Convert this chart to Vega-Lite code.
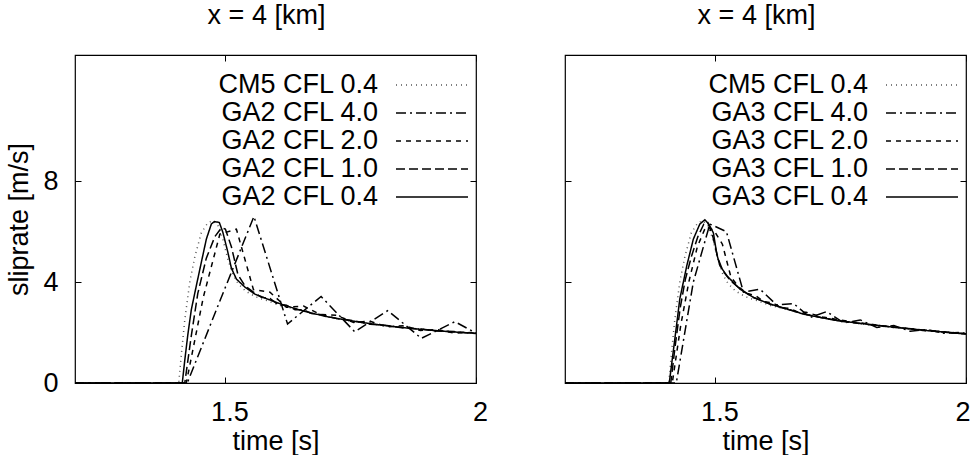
{
  "$schema": "https://vega.github.io/schema/vega-lite/v6.json",
  "padding": {"left": 5, "top": 0, "right": 5, "bottom": 0},
  "background": "white",
  "config": {
    "font": "Liberation Sans",
    "view": {"stroke": "black", "strokeWidth": 1.2},
    "axis": {"grid": false, "domain": false, "ticks": true, "tickColor": "black", "tickWidth": 1, "tickSize": -6, "labelFont": "Liberation Sans", "labelFontSize": 27, "labelColor": "black", "titleFont": "Liberation Sans", "titleFontSize": 27, "titleFontWeight": "normal", "titleColor": "black"},
    "axisX": {"labelPadding": 22, "titlePadding": 3, "labelOffset": 4, "labelFlush": false, "format": "~g"},
    "axisY": {"labelPadding": 23, "titlePadding": 9},
    "legend": {"title": null, "orient": "none", "legendX": 320, "legendY": 16.5, "symbolType": "stroke", "symbolSize": 5184, "symbolStrokeWidth": 1.5, "rowPadding": 0, "labelAlign": "right", "labelOffset": -91, "symbolOffset": 0, "labelFont": "Liberation Sans", "labelFontSize": 27, "labelColor": "black", "padding": 0, "labelLimit": 400}
  },
  "datasets": {
    "left": [
      {"s":"CM5 CFL 0.4","t":1.2,"v":0},{"s":"CM5 CFL 0.4","t":1.407,"v":0},{"s":"CM5 CFL 0.4","t":1.412,"v":1.1},{"s":"CM5 CFL 0.4","t":1.419,"v":2.5},{"s":"CM5 CFL 0.4","t":1.429,"v":4.0},{"s":"CM5 CFL 0.4","t":1.439,"v":5.0},{"s":"CM5 CFL 0.4","t":1.452,"v":5.95},{"s":"CM5 CFL 0.4","t":1.465,"v":6.35},{"s":"CM5 CFL 0.4","t":1.475,"v":6.43},{"s":"CM5 CFL 0.4","t":1.485,"v":6.25},{"s":"CM5 CFL 0.4","t":1.495,"v":5.7},{"s":"CM5 CFL 0.4","t":1.505,"v":4.9},{"s":"CM5 CFL 0.4","t":1.515,"v":4.3},{"s":"CM5 CFL 0.4","t":1.525,"v":3.95},{"s":"CM5 CFL 0.4","t":1.54,"v":3.65},{"s":"CM5 CFL 0.4","t":1.56,"v":3.42},{"s":"CM5 CFL 0.4","t":1.585,"v":3.25},{"s":"CM5 CFL 0.4","t":1.61,"v":3.07},{"s":"CM5 CFL 0.4","t":1.65,"v":2.88},{"s":"CM5 CFL 0.4","t":1.7,"v":2.64},{"s":"CM5 CFL 0.4","t":1.75,"v":2.46},{"s":"CM5 CFL 0.4","t":1.8,"v":2.32},{"s":"CM5 CFL 0.4","t":1.85,"v":2.21},{"s":"CM5 CFL 0.4","t":1.9,"v":2.12},{"s":"CM5 CFL 0.4","t":1.95,"v":2.04},{"s":"CM5 CFL 0.4","t":2.0,"v":1.97},
      {"s":"GA2 CFL 4.0","t":1.2,"v":0},{"s":"GA2 CFL 4.0","t":1.357,"v":0},{"s":"GA2 CFL 4.0","t":1.424,"v":0},{"s":"GA2 CFL 4.0","t":1.49,"v":3.3},{"s":"GA2 CFL 4.0","t":1.557,"v":6.6},{"s":"GA2 CFL 4.0","t":1.624,"v":2.34},{"s":"GA2 CFL 4.0","t":1.691,"v":3.43},{"s":"GA2 CFL 4.0","t":1.758,"v":2.03},{"s":"GA2 CFL 4.0","t":1.824,"v":2.87},{"s":"GA2 CFL 4.0","t":1.891,"v":1.77},{"s":"GA2 CFL 4.0","t":1.958,"v":2.43},{"s":"GA2 CFL 4.0","t":2.024,"v":1.72},
      {"s":"GA2 CFL 2.0","t":1.2,"v":0},{"s":"GA2 CFL 2.0","t":1.422,"v":0},{"s":"GA2 CFL 2.0","t":1.456,"v":3.4},{"s":"GA2 CFL 2.0","t":1.489,"v":5.9},{"s":"GA2 CFL 2.0","t":1.522,"v":6.1},{"s":"GA2 CFL 2.0","t":1.556,"v":3.7},{"s":"GA2 CFL 2.0","t":1.589,"v":3.6},{"s":"GA2 CFL 2.0","t":1.622,"v":3.0},{"s":"GA2 CFL 2.0","t":1.656,"v":3.05},{"s":"GA2 CFL 2.0","t":1.689,"v":2.72},{"s":"GA2 CFL 2.0","t":1.722,"v":2.68},{"s":"GA2 CFL 2.0","t":1.756,"v":2.4},{"s":"GA2 CFL 2.0","t":1.789,"v":2.45},{"s":"GA2 CFL 2.0","t":1.822,"v":2.22},{"s":"GA2 CFL 2.0","t":1.856,"v":2.27},{"s":"GA2 CFL 2.0","t":1.889,"v":2.08},{"s":"GA2 CFL 2.0","t":1.922,"v":2.12},{"s":"GA2 CFL 2.0","t":1.956,"v":1.98},{"s":"GA2 CFL 2.0","t":1.989,"v":2.0},{"s":"GA2 CFL 2.0","t":2.022,"v":1.92},
      {"s":"GA2 CFL 1.0","t":1.2,"v":0},{"s":"GA2 CFL 1.0","t":1.419,"v":0},{"s":"GA2 CFL 1.0","t":1.432,"v":1.87},{"s":"GA2 CFL 1.0","t":1.445,"v":3.55},{"s":"GA2 CFL 1.0","t":1.462,"v":4.95},{"s":"GA2 CFL 1.0","t":1.479,"v":5.8},{"s":"GA2 CFL 1.0","t":1.492,"v":6.15},{"s":"GA2 CFL 1.0","t":1.5,"v":6.1},{"s":"GA2 CFL 1.0","t":1.512,"v":5.4},{"s":"GA2 CFL 1.0","t":1.525,"v":4.3},{"s":"GA2 CFL 1.0","t":1.539,"v":3.85},{"s":"GA2 CFL 1.0","t":1.556,"v":3.6},{"s":"GA2 CFL 1.0","t":1.572,"v":3.4},{"s":"GA2 CFL 1.0","t":1.589,"v":3.35},{"s":"GA2 CFL 1.0","t":1.606,"v":3.1},{"s":"GA2 CFL 1.0","t":1.622,"v":3.08},{"s":"GA2 CFL 1.0","t":1.639,"v":2.9},{"s":"GA2 CFL 1.0","t":1.656,"v":2.9},{"s":"GA2 CFL 1.0","t":1.672,"v":2.75},{"s":"GA2 CFL 1.0","t":1.689,"v":2.72},{"s":"GA2 CFL 1.0","t":1.722,"v":2.56},{"s":"GA2 CFL 1.0","t":1.756,"v":2.47},{"s":"GA2 CFL 1.0","t":1.789,"v":2.33},{"s":"GA2 CFL 1.0","t":1.822,"v":2.28},{"s":"GA2 CFL 1.0","t":1.856,"v":2.18},{"s":"GA2 CFL 1.0","t":1.889,"v":2.14},{"s":"GA2 CFL 1.0","t":1.922,"v":2.06},{"s":"GA2 CFL 1.0","t":1.956,"v":2.04},{"s":"GA2 CFL 1.0","t":1.989,"v":1.97},{"s":"GA2 CFL 1.0","t":2.006,"v":1.96},
      {"s":"GA2 CFL 0.4","t":1.2,"v":0},{"s":"GA2 CFL 0.4","t":1.414,"v":0},{"s":"GA2 CFL 0.4","t":1.419,"v":0.9},{"s":"GA2 CFL 0.4","t":1.425,"v":1.9},{"s":"GA2 CFL 0.4","t":1.432,"v":2.9},{"s":"GA2 CFL 0.4","t":1.442,"v":3.85},{"s":"GA2 CFL 0.4","t":1.452,"v":4.78},{"s":"GA2 CFL 0.4","t":1.462,"v":5.7},{"s":"GA2 CFL 0.4","t":1.472,"v":6.3},{"s":"GA2 CFL 0.4","t":1.478,"v":6.4},{"s":"GA2 CFL 0.4","t":1.488,"v":6.36},{"s":"GA2 CFL 0.4","t":1.495,"v":5.97},{"s":"GA2 CFL 0.4","t":1.505,"v":5.18},{"s":"GA2 CFL 0.4","t":1.512,"v":4.55},{"s":"GA2 CFL 0.4","t":1.522,"v":4.12},{"s":"GA2 CFL 0.4","t":1.539,"v":3.8},{"s":"GA2 CFL 0.4","t":1.559,"v":3.52},{"s":"GA2 CFL 0.4","t":1.585,"v":3.32},{"s":"GA2 CFL 0.4","t":1.612,"v":3.12},{"s":"GA2 CFL 0.4","t":1.639,"v":2.95},{"s":"GA2 CFL 0.4","t":1.67,"v":2.78},{"s":"GA2 CFL 0.4","t":1.705,"v":2.62},{"s":"GA2 CFL 0.4","t":1.74,"v":2.5},{"s":"GA2 CFL 0.4","t":1.772,"v":2.4},{"s":"GA2 CFL 0.4","t":1.805,"v":2.31},{"s":"GA2 CFL 0.4","t":1.839,"v":2.23},{"s":"GA2 CFL 0.4","t":1.872,"v":2.16},{"s":"GA2 CFL 0.4","t":1.905,"v":2.1},{"s":"GA2 CFL 0.4","t":1.95,"v":2.03},{"s":"GA2 CFL 0.4","t":2.0,"v":1.97}
    ],
    "right": [
      {"s":"CM5 CFL 0.4","t":1.2,"v":0},{"s":"CM5 CFL 0.4","t":1.407,"v":0},{"s":"CM5 CFL 0.4","t":1.412,"v":1.1},{"s":"CM5 CFL 0.4","t":1.419,"v":2.5},{"s":"CM5 CFL 0.4","t":1.429,"v":4.0},{"s":"CM5 CFL 0.4","t":1.439,"v":5.0},{"s":"CM5 CFL 0.4","t":1.452,"v":5.95},{"s":"CM5 CFL 0.4","t":1.465,"v":6.35},{"s":"CM5 CFL 0.4","t":1.475,"v":6.43},{"s":"CM5 CFL 0.4","t":1.485,"v":6.25},{"s":"CM5 CFL 0.4","t":1.495,"v":5.7},{"s":"CM5 CFL 0.4","t":1.505,"v":4.9},{"s":"CM5 CFL 0.4","t":1.515,"v":4.3},{"s":"CM5 CFL 0.4","t":1.525,"v":3.95},{"s":"CM5 CFL 0.4","t":1.54,"v":3.65},{"s":"CM5 CFL 0.4","t":1.56,"v":3.42},{"s":"CM5 CFL 0.4","t":1.585,"v":3.25},{"s":"CM5 CFL 0.4","t":1.61,"v":3.07},{"s":"CM5 CFL 0.4","t":1.65,"v":2.88},{"s":"CM5 CFL 0.4","t":1.7,"v":2.64},{"s":"CM5 CFL 0.4","t":1.75,"v":2.46},{"s":"CM5 CFL 0.4","t":1.8,"v":2.32},{"s":"CM5 CFL 0.4","t":1.85,"v":2.21},{"s":"CM5 CFL 0.4","t":1.9,"v":2.12},{"s":"CM5 CFL 0.4","t":1.95,"v":2.04},{"s":"CM5 CFL 0.4","t":2.0,"v":1.97},
      {"s":"GA3 CFL 4.0","t":1.2,"v":0},{"s":"GA3 CFL 4.0","t":1.422,"v":0},{"s":"GA3 CFL 4.0","t":1.456,"v":4.0},{"s":"GA3 CFL 4.0","t":1.489,"v":6.3},{"s":"GA3 CFL 4.0","t":1.522,"v":6.0},{"s":"GA3 CFL 4.0","t":1.556,"v":3.6},{"s":"GA3 CFL 4.0","t":1.589,"v":3.72},{"s":"GA3 CFL 4.0","t":1.622,"v":3.1},{"s":"GA3 CFL 4.0","t":1.656,"v":3.15},{"s":"GA3 CFL 4.0","t":1.689,"v":2.6},{"s":"GA3 CFL 4.0","t":1.722,"v":2.83},{"s":"GA3 CFL 4.0","t":1.756,"v":2.38},{"s":"GA3 CFL 4.0","t":1.789,"v":2.5},{"s":"GA3 CFL 4.0","t":1.822,"v":2.2},{"s":"GA3 CFL 4.0","t":1.856,"v":2.28},{"s":"GA3 CFL 4.0","t":1.889,"v":2.05},{"s":"GA3 CFL 4.0","t":1.922,"v":2.12},{"s":"GA3 CFL 4.0","t":1.956,"v":1.97},{"s":"GA3 CFL 4.0","t":1.989,"v":2.0},{"s":"GA3 CFL 4.0","t":2.022,"v":1.9},
      {"s":"GA3 CFL 2.0","t":1.2,"v":0},{"s":"GA3 CFL 2.0","t":1.414,"v":0},{"s":"GA3 CFL 2.0","t":1.431,"v":2.3},{"s":"GA3 CFL 2.0","t":1.447,"v":4.0},{"s":"GA3 CFL 2.0","t":1.464,"v":5.4},{"s":"GA3 CFL 2.0","t":1.481,"v":6.2},{"s":"GA3 CFL 2.0","t":1.497,"v":6.05},{"s":"GA3 CFL 2.0","t":1.514,"v":5.5},{"s":"GA3 CFL 2.0","t":1.531,"v":4.2},{"s":"GA3 CFL 2.0","t":1.547,"v":3.8},{"s":"GA3 CFL 2.0","t":1.564,"v":3.55},{"s":"GA3 CFL 2.0","t":1.581,"v":3.45},{"s":"GA3 CFL 2.0","t":1.597,"v":3.22},{"s":"GA3 CFL 2.0","t":1.614,"v":3.18},{"s":"GA3 CFL 2.0","t":1.631,"v":2.98},{"s":"GA3 CFL 2.0","t":1.647,"v":2.96},{"s":"GA3 CFL 2.0","t":1.664,"v":2.82},{"s":"GA3 CFL 2.0","t":1.681,"v":2.8},{"s":"GA3 CFL 2.0","t":1.714,"v":2.62},{"s":"GA3 CFL 2.0","t":1.747,"v":2.5},{"s":"GA3 CFL 2.0","t":1.781,"v":2.4},{"s":"GA3 CFL 2.0","t":1.814,"v":2.32},{"s":"GA3 CFL 2.0","t":1.847,"v":2.22},{"s":"GA3 CFL 2.0","t":1.881,"v":2.17},{"s":"GA3 CFL 2.0","t":1.914,"v":2.08},{"s":"GA3 CFL 2.0","t":1.947,"v":2.04},{"s":"GA3 CFL 2.0","t":1.981,"v":1.97},{"s":"GA3 CFL 2.0","t":2.0,"v":1.95},
      {"s":"GA3 CFL 1.0","t":1.2,"v":0},{"s":"GA3 CFL 1.0","t":1.411,"v":0},{"s":"GA3 CFL 1.0","t":1.42,"v":1.5},{"s":"GA3 CFL 1.0","t":1.43,"v":3.0},{"s":"GA3 CFL 1.0","t":1.44,"v":4.1},{"s":"GA3 CFL 1.0","t":1.452,"v":5.0},{"s":"GA3 CFL 1.0","t":1.465,"v":5.8},{"s":"GA3 CFL 1.0","t":1.477,"v":6.3},{"s":"GA3 CFL 1.0","t":1.485,"v":6.35},{"s":"GA3 CFL 1.0","t":1.495,"v":5.8},{"s":"GA3 CFL 1.0","t":1.505,"v":4.95},{"s":"GA3 CFL 1.0","t":1.515,"v":4.45},{"s":"GA3 CFL 1.0","t":1.53,"v":4.05},{"s":"GA3 CFL 1.0","t":1.55,"v":3.72},{"s":"GA3 CFL 1.0","t":1.575,"v":3.4},{"s":"GA3 CFL 1.0","t":1.61,"v":3.12},{"s":"GA3 CFL 1.0","t":1.64,"v":2.95},{"s":"GA3 CFL 1.0","t":1.676,"v":2.74},{"s":"GA3 CFL 1.0","t":1.71,"v":2.6},{"s":"GA3 CFL 1.0","t":1.743,"v":2.48},{"s":"GA3 CFL 1.0","t":1.78,"v":2.38},{"s":"GA3 CFL 1.0","t":1.843,"v":2.24},{"s":"GA3 CFL 1.0","t":1.92,"v":2.09},{"s":"GA3 CFL 1.0","t":2.0,"v":1.95},
      {"s":"GA3 CFL 0.4","t":1.2,"v":0},{"s":"GA3 CFL 0.4","t":1.408,"v":0},{"s":"GA3 CFL 0.4","t":1.415,"v":1.1},{"s":"GA3 CFL 0.4","t":1.422,"v":2.2},{"s":"GA3 CFL 0.4","t":1.429,"v":3.33},{"s":"GA3 CFL 0.4","t":1.443,"v":4.65},{"s":"GA3 CFL 0.4","t":1.456,"v":5.7},{"s":"GA3 CFL 0.4","t":1.469,"v":6.3},{"s":"GA3 CFL 0.4","t":1.479,"v":6.47},{"s":"GA3 CFL 0.4","t":1.487,"v":6.3},{"s":"GA3 CFL 0.4","t":1.496,"v":5.95},{"s":"GA3 CFL 0.4","t":1.503,"v":5.1},{"s":"GA3 CFL 0.4","t":1.509,"v":4.65},{"s":"GA3 CFL 0.4","t":1.523,"v":4.25},{"s":"GA3 CFL 0.4","t":1.549,"v":3.72},{"s":"GA3 CFL 0.4","t":1.576,"v":3.39},{"s":"GA3 CFL 0.4","t":1.609,"v":3.13},{"s":"GA3 CFL 0.4","t":1.676,"v":2.73},{"s":"GA3 CFL 0.4","t":1.743,"v":2.47},{"s":"GA3 CFL 0.4","t":1.843,"v":2.24},{"s":"GA3 CFL 0.4","t":1.92,"v":2.08},{"s":"GA3 CFL 0.4","t":2.0,"v":1.94}
    ]
  },
  "spacing": 74,
  "resolve": {"scale": {"strokeDash": "independent", "color": "independent"}, "legend": {"strokeDash": "independent", "color": "independent"}},
  "hconcat": [
    {
      "width": 401, "height": 328,
      "title": {"text": "x = 4 [km]", "font": "Liberation Sans", "fontSize": 27, "fontWeight": "normal", "color": "black", "dx": -9, "offset": 25},
      "data": {"name": "left"},
      "resolve": {"axis": {"x": "independent", "y": "independent"}},
      "layer": [
        {
          "mark": {"type": "line", "clip": true, "strokeWidth": 1.5},
          "encoding": {
            "x": {"field": "t", "type": "quantitative", "scale": {"domain": [1.2, 2], "nice": false, "zero": false}, "axis": {"orient": "bottom", "values": [1.5, 2], "title": "time [s]"}},
            "y": {"field": "v", "type": "quantitative", "scale": {"domain": [0, 13], "nice": false}, "axis": {"orient": "left", "values": [0, 4, 8], "title": "sliprate [m/s]"}},
            "strokeDash": {"field": "s", "type": "nominal", "scale": {"domain": ["CM5 CFL 0.4", "GA2 CFL 4.0", "GA2 CFL 2.0", "GA2 CFL 1.0", "GA2 CFL 0.4"], "range": [[1, 4], [10, 4, 2, 4], [5, 5], [9, 4], [1, 0]]}, "legend": {"encode": {"symbols": {"update": {"y": {"value": 13.5}}}, "labels": {"update": {"y": {"value": 13.5}}}}}},
            "color": {"field": "s", "type": "nominal", "scale": {"domain": ["CM5 CFL 0.4", "GA2 CFL 4.0", "GA2 CFL 2.0", "GA2 CFL 1.0", "GA2 CFL 0.4"], "range": ["#555555", "black", "black", "black", "black"]}, "legend": {"encode": {"symbols": {"update": {"y": {"value": 13.5}}}, "labels": {"update": {"y": {"value": 13.5}}}}}}
          }
        },
        {
          "mark": {"type": "line", "opacity": 0},
          "encoding": {
            "x": {"field": "t", "type": "quantitative", "axis": {"orient": "top", "values": [1.5, 2], "labels": false, "title": null}},
            "y": {"field": "v", "type": "quantitative", "axis": {"orient": "right", "values": [0, 4, 8], "labels": false, "title": null}},
            "detail": {"field": "s"}
          }
        }
      ]
    },
    {
      "width": 401, "height": 328,
      "title": {"text": "x = 4 [km]", "font": "Liberation Sans", "fontSize": 27, "fontWeight": "normal", "color": "black", "dx": -9, "offset": 25},
      "data": {"name": "right"},
      "resolve": {"axis": {"x": "independent", "y": "independent"}},
      "layer": [
        {
          "mark": {"type": "line", "clip": true, "strokeWidth": 1.5},
          "encoding": {
            "x": {"field": "t", "type": "quantitative", "scale": {"domain": [1.2, 2], "nice": false, "zero": false}, "axis": {"orient": "bottom", "values": [1.5, 2], "title": "time [s]", "labelFlush": true}},
            "y": {"field": "v", "type": "quantitative", "scale": {"domain": [0, 13], "nice": false}, "axis": {"orient": "left", "values": [0, 4, 8], "labels": false, "title": null}},
            "strokeDash": {"field": "s", "type": "nominal", "scale": {"domain": ["CM5 CFL 0.4", "GA3 CFL 4.0", "GA3 CFL 2.0", "GA3 CFL 1.0", "GA3 CFL 0.4"], "range": [[1, 4], [10, 4, 2, 4], [5, 5], [9, 4], [1, 0]]}, "legend": {"encode": {"symbols": {"update": {"y": {"value": 13.5}}}, "labels": {"update": {"y": {"value": 13.5}}}}}},
            "color": {"field": "s", "type": "nominal", "scale": {"domain": ["CM5 CFL 0.4", "GA3 CFL 4.0", "GA3 CFL 2.0", "GA3 CFL 1.0", "GA3 CFL 0.4"], "range": ["#555555", "black", "black", "black", "black"]}, "legend": {"encode": {"symbols": {"update": {"y": {"value": 13.5}}}, "labels": {"update": {"y": {"value": 13.5}}}}}}
          }
        },
        {
          "mark": {"type": "line", "opacity": 0},
          "encoding": {
            "x": {"field": "t", "type": "quantitative", "axis": {"orient": "top", "values": [1.5, 2], "labels": false, "title": null}},
            "y": {"field": "v", "type": "quantitative", "axis": {"orient": "right", "values": [0, 4, 8], "labels": false, "title": null}},
            "detail": {"field": "s"}
          }
        }
      ]
    }
  ]
}
